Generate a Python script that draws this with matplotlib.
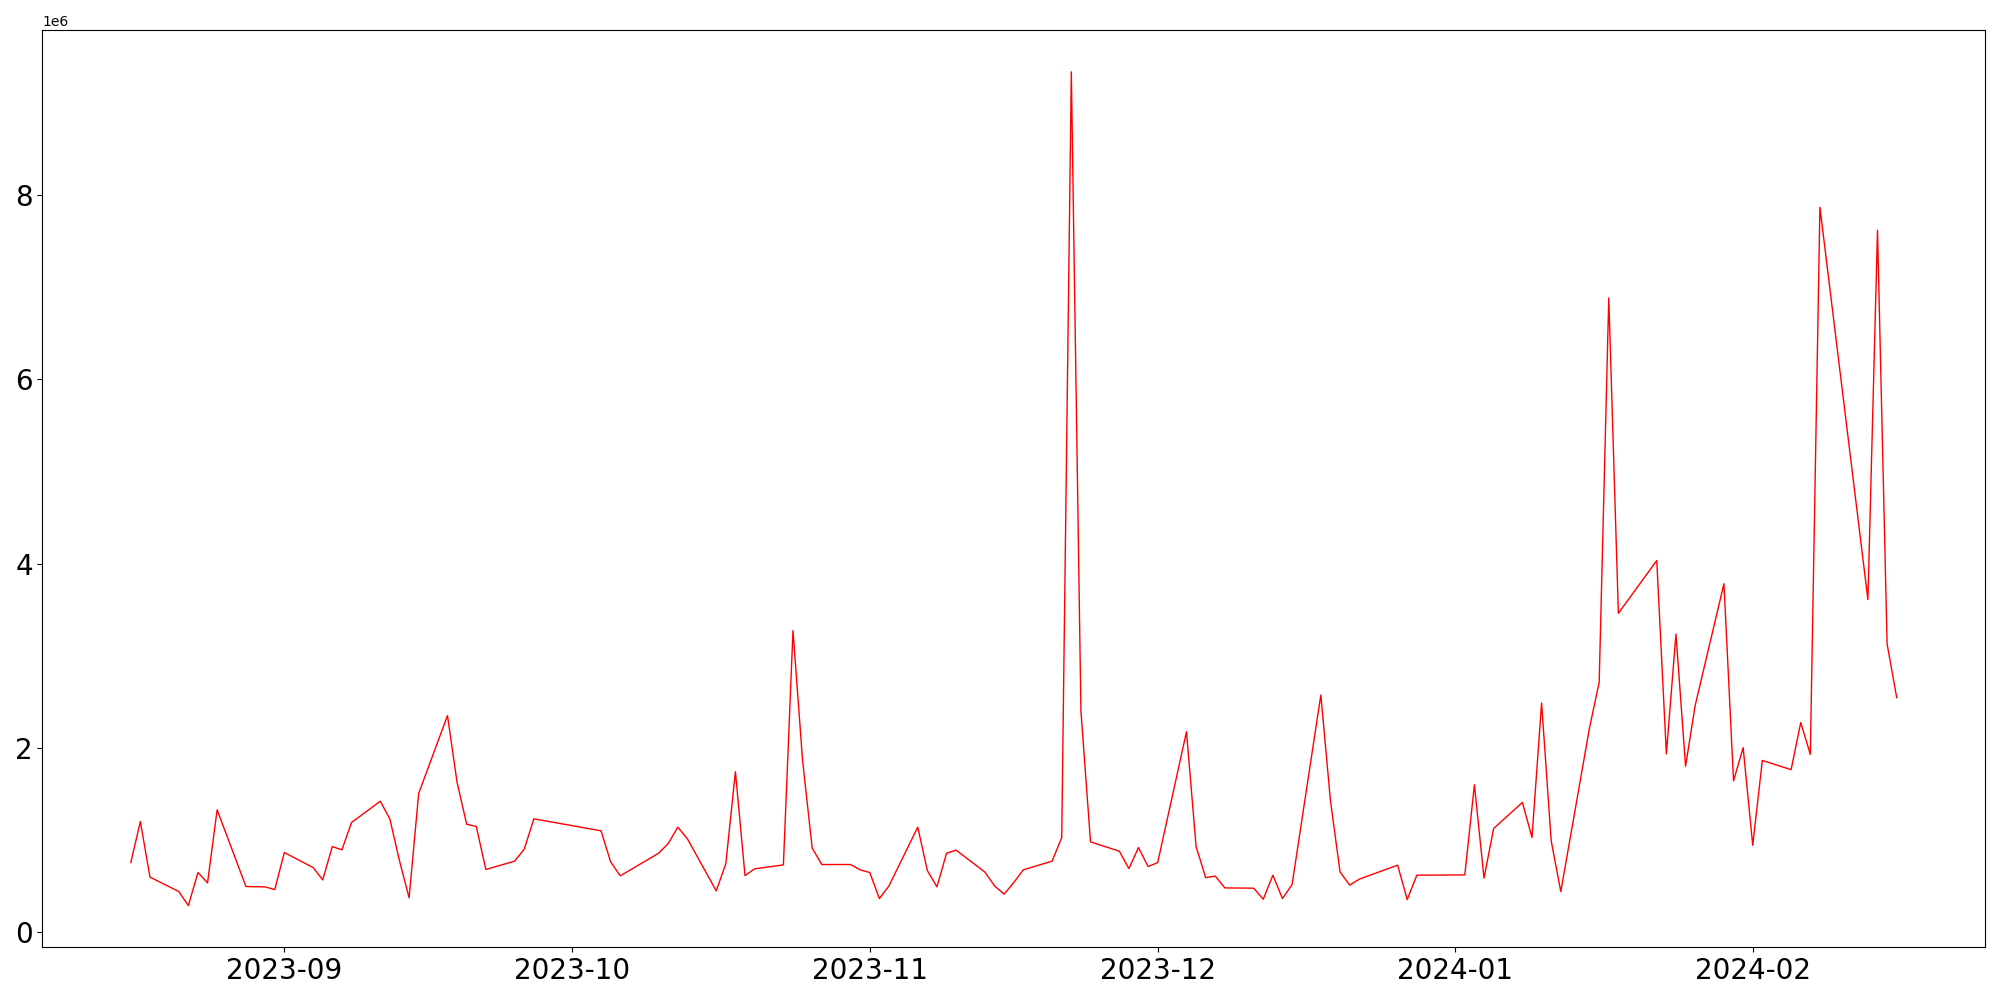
import matplotlib
matplotlib.use("Agg")
import matplotlib.pyplot as plt
import pandas as pd

# fechas y valores
fechas = [
    "2023-08-16", "2023-08-17", "2023-08-18", "2023-08-21", "2023-08-22", "2023-08-23",
    "2023-08-24", "2023-08-25", "2023-08-28", "2023-08-30", "2023-08-31", "2023-09-01",
    "2023-09-04", "2023-09-05", "2023-09-06", "2023-09-07", "2023-09-08", "2023-09-11",
    "2023-09-12", "2023-09-13", "2023-09-14", "2023-09-15", "2023-09-18", "2023-09-19",
    "2023-09-20", "2023-09-21", "2023-09-22", "2023-09-25", "2023-09-26", "2023-09-27",
    "2023-10-04", "2023-10-05", "2023-10-06", "2023-10-10", "2023-10-11", "2023-10-12",
    "2023-10-13", "2023-10-16", "2023-10-17", "2023-10-18", "2023-10-19", "2023-10-20",
    "2023-10-23", "2023-10-24", "2023-10-25", "2023-10-26", "2023-10-27", "2023-10-30",
    "2023-10-31", "2023-11-01", "2023-11-02", "2023-11-03", "2023-11-06", "2023-11-07",
    "2023-11-08", "2023-11-09", "2023-11-10", "2023-11-13", "2023-11-14", "2023-11-15",
    "2023-11-16", "2023-11-17", "2023-11-20", "2023-11-21", "2023-11-22", "2023-11-23",
    "2023-11-24", "2023-11-27", "2023-11-28", "2023-11-29", "2023-11-30", "2023-12-01",
    "2023-12-04", "2023-12-05", "2023-12-06", "2023-12-07", "2023-12-08", "2023-12-11",
    "2023-12-12", "2023-12-13", "2023-12-14", "2023-12-15", "2023-12-18", "2023-12-19",
    "2023-12-20", "2023-12-21", "2023-12-22", "2023-12-26", "2023-12-27", "2023-12-28",
    "2024-01-02", "2024-01-03", "2024-01-04", "2024-01-05", "2024-01-08", "2024-01-09",
    "2024-01-10", "2024-01-11", "2024-01-12", "2024-01-15", "2024-01-16", "2024-01-17",
    "2024-01-18", "2024-01-22", "2024-01-23", "2024-01-24", "2024-01-25", "2024-01-26",
    "2024-01-29", "2024-01-30", "2024-01-31", "2024-02-01", "2024-02-02", "2024-02-05",
    "2024-02-06", "2024-02-07", "2024-02-08", "2024-02-13", "2024-02-14", "2024-02-15",
    "2024-02-16",
]

valores = [
    754000, 1200000, 596000, 440000, 287000, 646000,
    534000, 1327000, 494000, 490000, 461000, 863000,
    700000, 566000, 928000, 892000, 1189000, 1420000,
    1226000, 773000, 371000, 1505000, 2350000, 1624000,
    1170000, 1146000, 679000, 770000, 900000, 1229000,
    1099000, 762000, 610000, 856000, 961000, 1139000,
    1012000, 447000, 740000, 1740000, 613000, 686000,
    729000, 3273000, 1860000, 911000, 733000, 733000,
    675000, 646000, 363000, 501000, 1139000, 667000,
    490000, 856000, 889000, 650000, 501000, 411000,
    537000, 675000, 770000, 1026000, 9340000, 2400000,
    979000, 878000, 689000, 917000, 711000, 754000,
    2175000, 928000, 591000, 607000, 479000, 476000,
    356000, 617000, 363000, 515000, 2574000, 1425000,
    653000, 509000, 574000, 726000, 352000, 617000,
    620000, 1599000, 585000, 1124000, 1407000, 1026000,
    2487000, 990000, 439000, 2222000, 2711000, 6885000,
    3461000, 4034000, 1934000, 3235000, 1800000, 2460000,
    3782000, 1641000, 2002000, 942000, 1863000, 1763000,
    2274000, 1929000, 7870000, 3610000, 7620000, 3127000,
    2546000,
]

x = pd.to_datetime(fechas)

fig = plt.figure(figsize=(20, 10), dpi=100)
plt.plot(x, valores, color="red", linewidth=1)
plt.xticks(fontsize=20)
plt.yticks(fontsize=20)
plt.tight_layout()
plt.savefig("out.png")
